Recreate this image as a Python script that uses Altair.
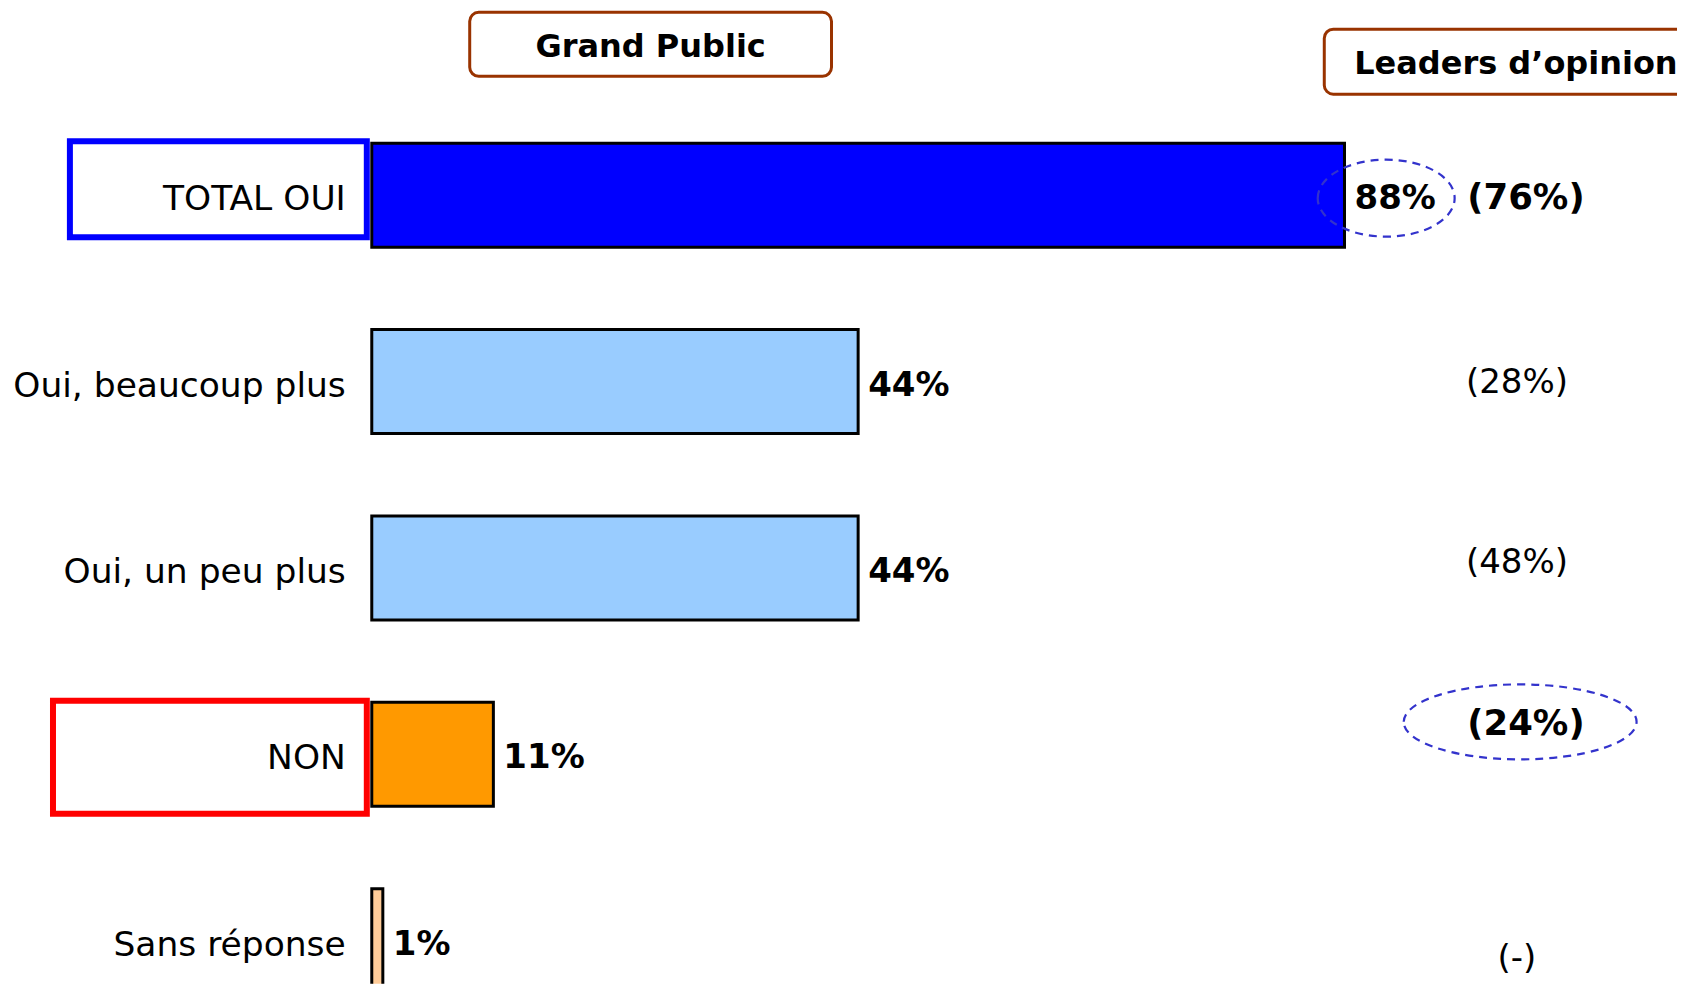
import altair as alt
import pandas as pd

# ---- data ----
categories = ["TOTAL OUI", "Oui, beaucoup plus", "Oui, un peu plus", "NON", "Sans réponse"]
grand_public = [88, 44, 44, 11, 1]
value_labels = ["88%", "44%", "44%", "11%", "1%"]
leaders_labels = ["(76%)", "(28%)", "(48%)", "(24%)", "(-)"]
leaders_bold = [True, False, False, True, False]
headers = ["Grand Public", "Leaders d’opinion"]

# ---- styles / layout ----
bar_colors = ["#0000FF", "#99CCFF", "#99CCFF", "#FF9900", "#FFCC99"]
FONT = "DejaVu Sans"
ROW_HALF = 0.279
leader_rows = [0.0, 0.99, 1.96, 2.82, 4.08]
LEADER_X = 103.6

xs = alt.Scale(domain=[-32.91, 118.08], nice=False, zero=False)
ys = alt.Scale(domain=[-1.0027, 4.231], nice=False, zero=False, reverse=True)

rows = list(range(len(categories)))
bars_df = pd.DataFrame({
    "cat": categories,
    "row": rows,
    "x0": [0] * len(rows),
    "val": grand_public,
    "y1": [r - ROW_HALF for r in rows],
    "y2": [r + ROW_HALF for r in rows],
    "color": bar_colors,
    "vlabel": value_labels,
})

bars = alt.Chart(bars_df).mark_rect(stroke="black", strokeWidth=3, clip=True).encode(
    x=alt.X("x0:Q", scale=xs, axis=None),
    x2="val:Q",
    y=alt.Y("y1:Q", scale=ys, axis=None),
    y2="y2:Q",
    fill=alt.Color("color:N", scale=None),
)

vals = alt.Chart(bars_df).mark_text(
    align="left", baseline="middle", dx=10, dy=4, font=FONT, fontSize=34, fontWeight="bold", color="black"
).encode(
    x=alt.X("val:Q", scale=xs, axis=None),
    y=alt.Y("row:Q", scale=ys, axis=None),
    text="vlabel:N",
)

cat_labels = alt.Chart(bars_df).mark_text(
    align="right", baseline="middle", dy=5, font=FONT, fontSize=34.5, color="black"
).encode(
    x=alt.X("xl:Q", scale=xs, axis=None),
    y=alt.Y("row:Q", scale=ys, axis=None),
    text="cat:N",
).transform_calculate(xl="-2.35")

# category highlight boxes
box_df = pd.DataFrame({
    "x1": [-27.31, -28.84], "x2": [-0.45, -0.45],
    "y1": [-0.2895, 2.713], "y2": [0.2252, 3.319],
    "color": ["#0000FF", "#FF0000"],
})
boxes = alt.Chart(box_df).mark_rect(fillOpacity=0, strokeWidth=6).encode(
    x=alt.X("x1:Q", scale=xs, axis=None), x2="x2:Q",
    y=alt.Y("y1:Q", scale=ys, axis=None), y2="y2:Q",
    stroke=alt.Color("color:N", scale=None),
)

# header boxes
hdr_df = pd.DataFrame({
    "label": headers,
    "x1": [8.86, 86.17], "x2": [41.59, 120.07],
    "y1": [-0.981, -0.890], "y2": [-0.638, -0.542],
})
hdr_boxes = alt.Chart(hdr_df).mark_rect(
    fillOpacity=0, stroke="#993300", strokeWidth=3, cornerRadius=9, clip=True
).encode(
    x=alt.X("x1:Q", scale=xs, axis=None), x2="x2:Q",
    y=alt.Y("y1:Q", scale=ys, axis=None), y2="y2:Q",
)
hdr_text_df = pd.DataFrame({
    "label": headers, "x": [25.23, 88.88], "y": [-0.804, -0.713],
})
hdr_text1 = alt.Chart(hdr_text_df.iloc[[0]]).mark_text(
    align="center", baseline="middle", dy=2, font=FONT, fontSize=32, fontWeight="bold", color="black"
).encode(x=alt.X("x:Q", scale=xs, axis=None), y=alt.Y("y:Q", scale=ys, axis=None), text="label:N")
hdr_text2 = alt.Chart(hdr_text_df.iloc[[1]]).mark_text(
    align="left", baseline="middle", dy=2, font=FONT, fontSize=32, fontWeight="bold", color="black"
).encode(x=alt.X("x:Q", scale=xs, axis=None), y=alt.Y("y:Q", scale=ys, axis=None), text="label:N")

# leaders column
lead_df = pd.DataFrame({
    "label": leaders_labels, "bold": leaders_bold,
    "y": leader_rows, "x": [LEADER_X] * len(rows),
})
lead_reg = alt.Chart(lead_df[~lead_df["bold"]]).mark_text(
    align="center", baseline="middle", dy=3, font=FONT, fontSize=34, color="black"
).encode(x=alt.X("x:Q", scale=xs, axis=None), y=alt.Y("y:Q", scale=ys, axis=None), text="label:N")
lead_bold = alt.Chart(lead_df[lead_df["bold"]]).mark_text(
    align="center", baseline="middle", dx=9, dy=3, font=FONT, fontSize=35.5, fontWeight="bold", color="black"
).encode(x=alt.X("x:Q", scale=xs, axis=None), y=alt.Y("y:Q", scale=ys, axis=None), text="label:N")

# dashed ellipses
def ellipse_path(e):
    k = 0.5523
    return (f"M-1,0 C-1,{-e*k:.4f} {-k},{-e:.4f} 0,{-e:.4f} "
            f"C{k},{-e:.4f} 1,{-e*k:.4f} 1,0 "
            f"C1,{e*k:.4f} {k},{e:.4f} 0,{e:.4f} "
            f"C{-k},{e:.4f} -1,{e*k:.4f} -1,0 Z")

ell1 = alt.Chart(pd.DataFrame({"x": [91.77], "y": [0.016]})).mark_point(
    shape=ellipse_path(0.562), size=137 ** 2, filled=False, stroke="#3333CC",
    strokeWidth=2.2, strokeDash=[8, 6], opacity=1
).encode(x=alt.X("x:Q", scale=xs, axis=None), y=alt.Y("y:Q", scale=ys, axis=None))
ell2 = alt.Chart(pd.DataFrame({"x": [103.89], "y": [2.826]})).mark_point(
    shape=ellipse_path(0.322), size=233 ** 2, filled=False, stroke="#3333CC",
    strokeWidth=2.2, strokeDash=[8, 6], opacity=1
).encode(x=alt.X("x:Q", scale=xs, axis=None), y=alt.Y("y:Q", scale=ys, axis=None))

chart = alt.layer(
    boxes, hdr_boxes, bars, ell1, ell2, vals, cat_labels,
    hdr_text1, hdr_text2, lead_reg, lead_bold,
).properties(width=1670, height=976, padding=0).configure_view(stroke=None)

chart.save("out.html", embed_options={"renderer": "svg", "actions": False})
